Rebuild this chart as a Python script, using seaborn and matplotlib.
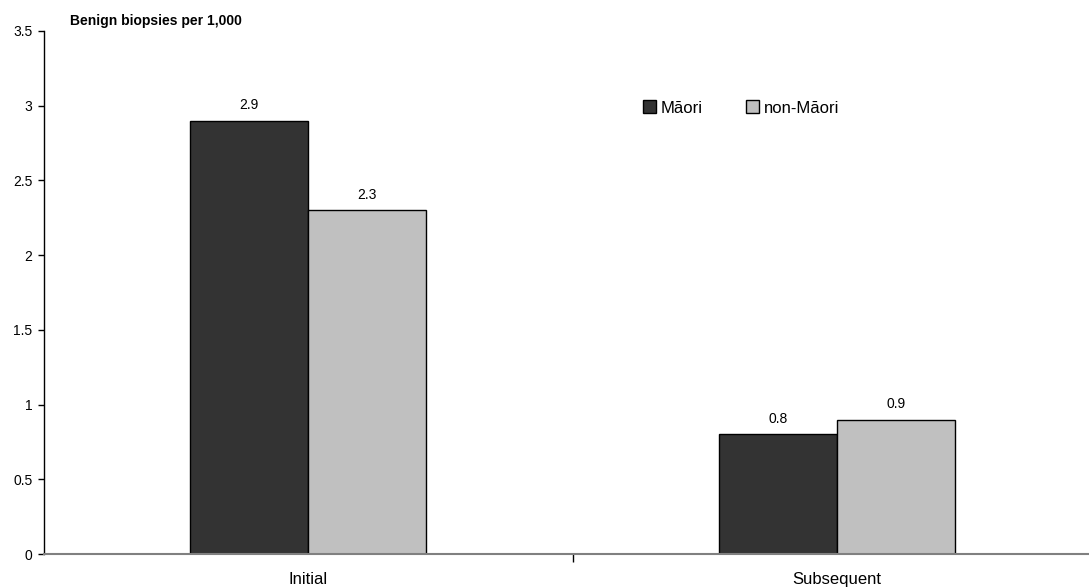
import matplotlib
matplotlib.use("Agg")
import matplotlib.pyplot as plt
import seaborn as sns
import pandas as pd
from matplotlib.ticker import FuncFormatter

# Data
stages = ["Initial", "Subsequent"]
groups = ["Māori", "non-Māori"]
maori_rates = [2.9, 0.8]
non_maori_rates = [2.3, 0.9]
group_colors = ["#333333", "#C0C0C0"]
y_ticks = [0, 0.5, 1, 1.5, 2, 2.5, 3, 3.5]

df = pd.DataFrame({
    "stage": stages * 2,
    "group": [groups[0]] * len(stages) + [groups[1]] * len(stages),
    "rate": maori_rates + non_maori_rates,
})

sns.set_theme(style="white")
plt.rcParams["font.family"] = ["Liberation Sans", "DejaVu Sans"]
plt.rcParams.update({
    "text.color": "black",
    "axes.labelcolor": "black",
    "xtick.color": "black",
    "ytick.color": "black",
})

W, H = 1089, 587
fig = plt.figure(figsize=(W / 100, H / 100), dpi=100)
ax = fig.add_axes([43.5 / W, 33 / H, 1058 / W, 523 / H])

sns.barplot(
    data=df, x="stage", y="rate", hue="group",
    order=stages, hue_order=groups, palette=group_colors,
    width=0.446, gap=0, edgecolor="black", linewidth=1,
    saturation=1, errorbar=None, ax=ax,
)

ax.set_xlim(-0.5, 1.5)
ax.set_ylim(0, 3.5)
ax.set_yticks(y_ticks)
ax.yaxis.set_major_formatter(FuncFormatter(lambda v, p: f"{v:g}"))
ax.tick_params(axis="y", direction="out", length=4, width=1, color="black",
               labelsize=10, pad=4, left=True, labelcolor="black")

# Category labels sit between boundary ticks
ax.set_xticks([0.5])
ax.set_xticklabels([])
ax.set_xticks([0, 1], minor=True)
ax.set_xticklabels(stages, minor=True)
ax.tick_params(axis="x", which="major", direction="out", length=6, width=1,
               color="black", bottom=True)
ax.tick_params(axis="x", which="minor", length=0, labelsize=12, pad=13,
               labelcolor="black")

ax.set_xlabel("")
ax.set_ylabel("")
for side in ["top", "right"]:
    ax.spines[side].set_visible(False)
ax.spines["left"].set_color("black")
ax.spines["left"].set_linewidth(1)
ax.spines["bottom"].set_color("#808080")
ax.spines["bottom"].set_linewidth(1.5)

for container in ax.containers:
    ax.bar_label(container, fmt="%.1f", padding=6, fontsize=10, color="black")

ax.legend_.remove()
handles = [plt.Rectangle((0, 0), 1, 1, facecolor=c, edgecolor="black", linewidth=1)
           for c in group_colors]
fig.legend(handles, groups, loc="center left",
           bbox_to_anchor=(643 / W, 1 - 108 / H), ncol=2, frameon=False,
           fontsize=12, handlelength=0.78, handleheight=0.78,
           handletextpad=0.3, columnspacing=2.6, borderpad=0, borderaxespad=0)

fig.text(70 / W, 1 - 25 / H, "Benign biopsies per 1,000", fontsize=10,
         fontweight="bold", ha="left", va="baseline", color="black")

fig.savefig("out.png", dpi=100)
